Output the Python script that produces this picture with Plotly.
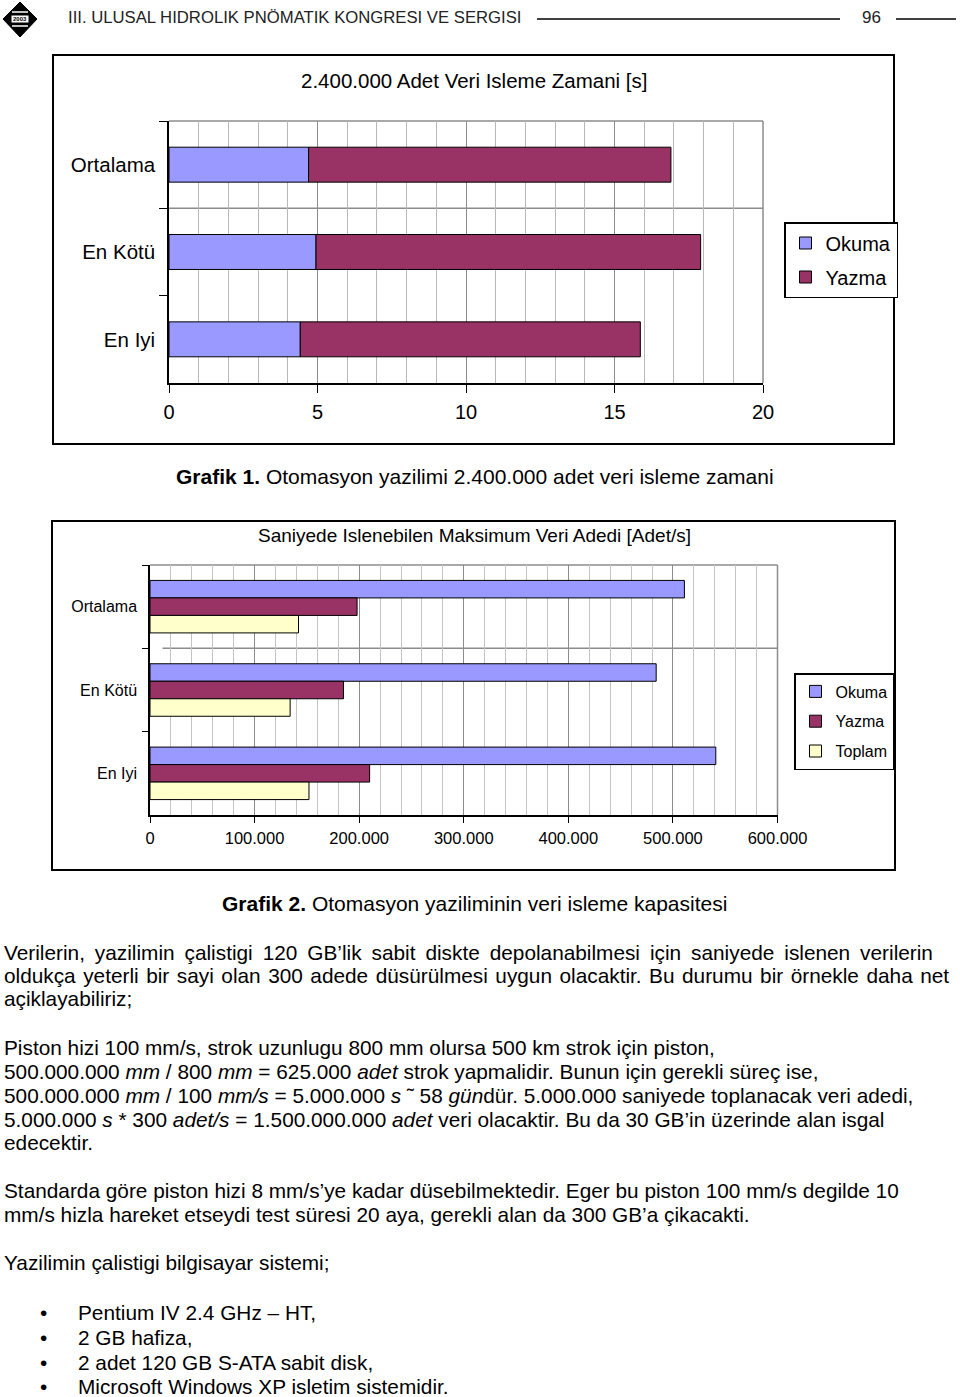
import plotly.graph_objects as go

W, H = 960, 1397

# ---------------- data ----------------
categories = ["Ortalama", "En Kötü", "En Iyi"]

# Grafik 1: 2.400.000 adet veri isleme zamani [s]
okuma_s = [4.70, 4.95, 4.42]
yazma_s = [12.20, 12.95, 11.45]
x1_ticks = [0, 5, 10, 15, 20]

# Grafik 2: saniyede islenebilen maksimum veri adedi [adet/s]
okuma_rate = [511000, 484000, 541000]
yazma_rate = [198000, 185000, 210000]
toplam_rate = [142000, 134000, 152000]
x2_ticks = [0, 100000, 200000, 300000, 400000, 500000, 600000]

series_names = ["Okuma", "Yazma", "Toplam"]
colors = {"Okuma": "#9999FF", "Yazma": "#993366", "Toplam": "#FFFFCC"}

FONT = "Liberation Sans, Arial, sans-serif"


def px(x):
    return x / W


def py(y):
    return 1 - y / H


fig = go.Figure()

# ---- chart 1 (stacked using base) ----
fig.add_trace(go.Bar(
    y=categories, x=okuma_s, orientation="h", name=series_names[0],
    marker=dict(color=colors["Okuma"], line=dict(color="black", width=1)),
    width=0.4, offset=-0.2, xaxis="x", yaxis="y",
    legend="legend", legendgroup="g1a"))
fig.add_trace(go.Bar(
    y=categories, x=yazma_s, base=okuma_s, orientation="h", name=series_names[1],
    marker=dict(color=colors["Yazma"], line=dict(color="black", width=1)),
    width=0.4, offset=-0.2, xaxis="x", yaxis="y",
    legend="legend", legendgroup="g1b"))

# ---- chart 2 (grouped via offsets) ----
rates = [okuma_rate, yazma_rate, toplam_rate]
offsets = [-0.315, -0.105, 0.105]
for name, vals, off in zip(series_names, rates, offsets):
    fig.add_trace(go.Bar(
        y=categories, x=vals, orientation="h", name=name,
        marker=dict(color=colors[name], line=dict(color="black", width=1)),
        width=0.21, offset=off, xaxis="x2", yaxis="y2",
        legend="legend2", legendgroup="g2" + name))

axis_common = dict(showline=True, linecolor="black", linewidth=1.5,
                   ticks="outside", tickcolor="black", zeroline=False,
                   automargin=False)

fig.update_layout(
    template="none",
    width=W, height=H, autosize=False,
    margin=dict(l=0, r=0, t=0, b=0, pad=0, autoexpand=False),
    paper_bgcolor="white", plot_bgcolor="white",
    barmode="overlay", separators=",.",
    font=dict(family=FONT, color="black"),
    xaxis=dict(domain=[px(169), px(763)], anchor="y", range=[0, 20],
               tickvals=x1_ticks, ticklen=8, tickfont=dict(size=20),
               ticklabelstandoff=2,
               showgrid=True, gridcolor="#8c8c8c", gridwidth=1,
               minor=dict(dtick=1, showgrid=True, gridcolor="#b8b8b8", gridwidth=1),
               **axis_common),
    yaxis=dict(domain=[py(383), py(121)], anchor="x", type="category",
               categoryorder="array", categoryarray=categories,
               range=[2.5, -0.5], tickson="boundaries", ticklen=8,
               tickfont=dict(size=20.5), showgrid=False, ticklabelstandoff=8,
               **axis_common),
    xaxis2=dict(domain=[px(150), px(777.5)], anchor="y2", range=[0, 600000],
                tickvals=x2_ticks, tickformat=",d", ticklen=6,
                tickfont=dict(size=16.5), ticklabelstandoff=1,
                showgrid=True, gridcolor="#8c8c8c", gridwidth=1,
                minor=dict(dtick=20000, showgrid=True, gridcolor="#c4c4c4", gridwidth=1),
                **axis_common),
    yaxis2=dict(domain=[py(815), py(565)], anchor="x2", type="category",
                categoryorder="array", categoryarray=categories,
                range=[2.5, -0.5], tickson="boundaries", ticklen=6,
                tickfont=dict(size=16), showgrid=False, ticklabelstandoff=8,
                **axis_common),
    legend=dict(x=px(784), y=py(222), xanchor="left", yanchor="top",
                bordercolor="black", borderwidth=1.5, bgcolor="white",
                font=dict(size=20), traceorder="grouped", tracegroupgap=5,
                itemwidth=30),
    legend2=dict(x=px(794), y=py(673), xanchor="left", yanchor="top",
                 bordercolor="black", borderwidth=1.5, bgcolor="white",
                 font=dict(size=16), traceorder="grouped", tracegroupgap=6,
                 itemwidth=30),
    showlegend=True,
)

shapes = []
# outer chart frames
shapes.append(dict(type="rect", xref="paper", yref="paper",
                   x0=px(53), x1=px(894), y0=py(444), y1=py(55),
                   line=dict(color="black", width=2)))
shapes.append(dict(type="rect", xref="paper", yref="paper",
                   x0=px(52), x1=px(895), y0=py(870), y1=py(521),
                   line=dict(color="black", width=2)))
# grey plot area borders (top / right)
for xr, yr in (("x", "y"), ("x2", "y2")):
    shapes.append(dict(type="line", xref=xr + " domain", yref=yr + " domain",
                       x0=0, x1=1, y0=1, y1=1, line=dict(color="#8c8c8c", width=1.5),
                       layer="below"))
    shapes.append(dict(type="line", xref=xr + " domain", yref=yr + " domain",
                       x0=1, x1=1, y0=0, y1=1, line=dict(color="#8c8c8c", width=1.5),
                       layer="below"))
# horizontal gridline between first and second category
shapes.append(dict(type="line", xref="x domain", yref="y", x0=0, x1=1, y0=0.5, y1=0.5,
                   line=dict(color="#8c8c8c", width=1.5), layer="below"))
shapes.append(dict(type="line", xref="x2 domain", yref="y2", x0=0.02, x1=1, y0=0.5, y1=0.5,
                   line=dict(color="#8c8c8c", width=1.5), layer="below"))
# header lines
shapes.append(dict(type="line", xref="paper", yref="paper", x0=px(537), x1=px(840),
                   y0=py(19), y1=py(19), line=dict(color="black", width=1.5)))
shapes.append(dict(type="line", xref="paper", yref="paper", x0=px(896), x1=px(956),
                   y0=py(19), y1=py(19), line=dict(color="black", width=1.5)))
# logo diamond
shapes.append(dict(type="path", xref="paper", yref="paper",
                   path=f"M {px(3)} {py(19)} L {px(20)} {py(2)} L {px(37)} {py(19)} L {px(20)} {py(37)} Z",
                   fillcolor="black", line=dict(color="black", width=1)))
shapes.append(dict(type="rect", xref="paper", yref="paper", x0=px(11), x1=px(29),
                   y0=py(23), y1=py(15), fillcolor="white", line=dict(color="black", width=1)))
for ly in (12, 26):
    shapes.append(dict(type="line", xref="paper", yref="paper", x0=px(12), x1=px(28),
                       y0=py(ly), y1=py(ly), line=dict(color="white", width=1.5)))
fig.update_layout(shapes=shapes)

ann = []


def text(x, y, s, size, anchor="left", color="black"):
    ann.append(dict(x=px(x), y=py(y), xref="paper", yref="paper", text=s,
                    showarrow=False, xanchor=anchor, yanchor="middle",
                    borderpad=0, font=dict(size=size, color=color, family=FONT)))


def justify(s, extra):
    """widen inter-word spaces of a justified line with extra thin/hair spaces"""
    return s.replace(" ", " " + extra)


# header
text(20, 19, "<b>2003</b>", 6, "center")
text(67, 18, "III. ULUSAL HIDROLIK PNÖMATIK KONGRESI VE SERGISI", 16.7, color="#222")
text(871, 18, "96", 17, "center", color="#222")

# chart titles and captions
text(474, 81, "2.400.000 Adet Veri Isleme Zamani [s]", 20.5, "center")
text(475, 476, "<b>Grafik 1.</b> Otomasyon yazilimi 2.400.000 adet veri isleme zamani", 21, "center")
text(474, 535, "Saniyede Islenebilen Maksimum Veri Adedi [Adet/s]", 19, "center")
text(474, 903, "<b>Grafik 2.</b> Otomasyon yaziliminin veri isleme kapasitesi", 21, "center")

# body text
BS = 20.8
body = [
    (952, justify("Verilerin, yazilimin çalistigi 120 GB’lik sabit diskte depolanabilmesi için saniyede islenen verilerin", "\u2009")),
    (975, justify("oldukça yeterli bir sayi olan 300 adede düsürülmesi uygun olacaktir. Bu durumu bir örnekle daha net", "\u200a")),
    (998, "açiklayabiliriz;"),
    (1047, "Piston hizi 100 mm/s, strok uzunlugu 800 mm olursa 500 km strok için piston,"),
    (1071, "500.000.000 <i>mm</i> / 800 <i>mm</i> = 625.000 <i>adet</i> strok yapmalidir. Bunun için gerekli süreç ise,"),
    (1095, "500.000.000 <i>mm</i> / 100 <i>mm/s</i> = 5.000.000 <i>s</i> ˜ 58 <i>gün</i>dür. 5.000.000 saniyede toplanacak veri adedi,"),
    (1119, "5.000.000 <i>s</i> * 300 <i>adet/s</i> = 1.500.000.000 <i>adet</i> veri olacaktir. Bu da 30 GB’in üzerinde alan isgal"),
    (1142, "edecektir."),
    (1190, "Standarda göre piston hizi 8 mm/s’ye kadar düsebilmektedir. Eger bu piston 100 mm/s degilde 10"),
    (1214, "mm/s hizla hareket etseydi test süresi 20 aya, gerekli alan da 300 GB’a çikacakti."),
    (1262, "Yazilimin çalistigi bilgisayar sistemi;"),
]
for y, s in body:
    text(3, y, s, BS)

bullets = [
    (1312, "Pentium IV 2.4 GHz – HT,"),
    (1337, "2 GB hafiza,"),
    (1362, "2 adet 120 GB S-ATA sabit disk,"),
    (1386, "Microsoft Windows XP isletim sistemidir."),
]
for y, s in bullets:
    text(43, y, "•", BS, "center")
    text(77, y, s, BS)

fig.update_layout(annotations=ann)

page_css = ("document.documentElement.style.margin='0';"
            "document.body.style.margin='0';"
            "document.body.style.overflow='hidden';"
            "document.documentElement.style.overflow='hidden';")

fig.write_html("out.html", post_script=page_css,
               config={"displayModeBar": False, "responsive": False})
